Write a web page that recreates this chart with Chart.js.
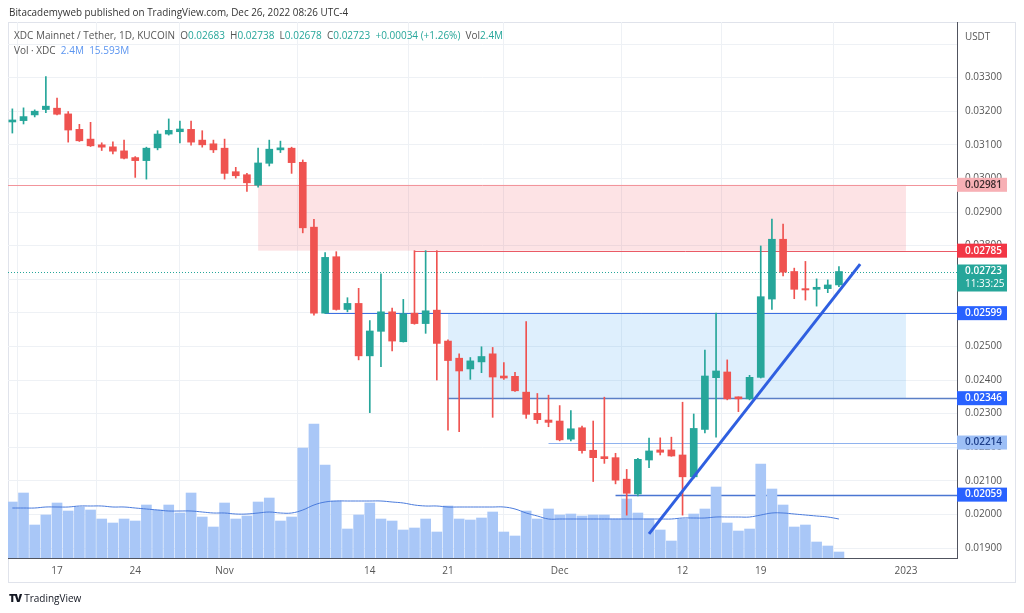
<!DOCTYPE html>
<html>
<head>
<meta charset="utf-8">
<title>XDC / USDT 1D</title>
<script src="https://cdn.jsdelivr.net/npm/chart.js"></script>
<style>
    body { margin: 0; background: #fff; font-family: "Open Sans", "Noto Sans", sans-serif; }
    #wrap { position: relative; width: 1024px; height: 613px; overflow: hidden; }
    #chart { position: absolute; left: 0; top: 0; }
    .txt { position: absolute; white-space: nowrap; font-size: 9.9px; line-height: 12px; color: #555; }
    .g { color: #26a69a; }
    .b { color: #5b95f0; }
    .logo { font-weight: 800; color: #131722; font-size: 11px; letter-spacing: -1px; margin-right: 3px; }
</style>
</head>
<body>
<div id="wrap">
    <canvas id="chart" width="1024" height="613"></canvas>
    <div class="txt" style="left:9px;top:6px;color:#333">Bitacademyweb published on TradingView.com, Dec 26, 2022 08:26 UTC-4</div>
    <div class="txt" style="left:14px;top:29px;font-size:10px">XDC Mainnet / Tether, 1D, KUCOIN&nbsp;&nbsp;O<span class="g">0.02683</span>&nbsp;&nbsp;H<span class="g">0.02738</span>&nbsp;&nbsp;L<span class="g">0.02678</span>&nbsp;&nbsp;C<span class="g">0.02723</span>&nbsp;&nbsp;<span class="g">+0.00034 (+1.26%)</span>&nbsp;&nbsp;Vol<span class="g">2.4M</span></div>
    <div class="txt" style="left:14px;top:44px;font-size:10px">Vol · XDC&nbsp;&nbsp;<span class="b">2.4M</span>&nbsp;&nbsp;<span class="b">15.593M</span></div>
    <div class="txt" style="left:965px;top:30px;color:#555">USDT</div>
    <div class="txt" style="left:9px;top:592px;color:#131722;font-size:10px"><span class="logo">TV</span>TradingView</div>
</div>

<script>
// daily candles, Oct 13 -> Dec 26 2022 (x = days from Oct 17)
const firstDay = -4;

const opens = [0.03168,0.03172,0.03189,0.03205,0.03209,0.03192,0.03146,0.03117,0.03100,0.03094,
    0.03082,0.03062,0.03053,0.03091,0.03132,0.03139,0.03146,0.03114,0.03103,0.03090,
    0.03020,0.03011,0.02980,0.03045,0.03085,0.03090,0.03048,0.02855,0.02599,0.02767,
    0.02610,0.02628,0.02472,0.02545,0.02603,0.02514,0.02599,0.02568,0.02608,0.02516,
    0.02465,0.02433,0.02454,0.02478,0.02412,0.02411,0.02364,0.02301,0.02281,0.02278,
    0.02224,0.02258,0.02191,0.02172,0.02169,0.02105,0.02061,0.02162,0.02192,0.02192,
    0.02177,0.02112,0.02253,0.02407,0.02424,0.02350,0.02344,0.02408,0.02641,0.02819,
    0.02723,0.02672,0.02670,0.02672,0.02683];

const highs = [0.03207,0.03210,0.03204,0.03303,0.03239,0.03199,0.03161,0.03167,0.03106,0.03109,
    0.03114,0.03065,0.03093,0.03142,0.03177,0.03171,0.03171,0.03142,0.03114,0.03117,
    0.03033,0.03015,0.03090,0.03114,0.03111,0.03093,0.03055,0.02878,0.02779,0.02782,
    0.02645,0.02673,0.02577,0.02716,0.02614,0.02640,0.02785,0.02785,0.02785,0.02520,
    0.02478,0.02467,0.02499,0.02497,0.02452,0.02423,0.02574,0.02360,0.02355,0.02324,
    0.02309,0.02263,0.02278,0.02349,0.02182,0.02134,0.02167,0.02227,0.02228,0.02230,
    0.02334,0.02299,0.02489,0.02599,0.02460,0.02350,0.02414,0.02799,0.02879,0.02864,
    0.02733,0.02753,0.02701,0.02698,0.02738];

const lows = [0.03135,0.03162,0.03183,0.03196,0.03189,0.03108,0.03110,0.03095,0.03083,0.03073,
    0.03058,0.03003,0.02998,0.03085,0.03129,0.03106,0.03099,0.03093,0.03077,0.02998,
    0.03001,0.02961,0.02974,0.03037,0.03077,0.03015,0.02838,0.02593,0.02598,0.02608,
    0.02603,0.02460,0.02303,0.02440,0.02487,0.02513,0.02566,0.02539,0.02400,0.02251,
    0.02246,0.02402,0.02422,0.02289,0.02402,0.02366,0.02286,0.02271,0.02261,0.02219,
    0.02219,0.02182,0.02098,0.02152,0.02091,0.01998,0.02055,0.02139,0.02177,0.02173,
    0.01998,0.02108,0.02243,0.02230,0.02341,0.02306,0.02341,0.02406,0.02610,0.02710,
    0.02642,0.02638,0.02620,0.02660,0.02678];

const closes = [0.03174,0.03184,0.03200,0.03215,0.03191,0.03144,0.03112,0.03097,0.03093,0.03081,
    0.03060,0.03053,0.03090,0.03132,0.03143,0.03147,0.03108,0.03100,0.03085,0.03015,
    0.03008,0.02987,0.03046,0.03087,0.03091,0.03047,0.02853,0.02599,0.02765,0.02610,
    0.02628,0.02472,0.02546,0.02603,0.02516,0.02597,0.02568,0.02606,0.02509,0.02458,
    0.02427,0.02457,0.02470,0.02409,0.02406,0.02368,0.02298,0.02282,0.02274,0.02222,
    0.02255,0.02190,0.02169,0.02166,0.02102,0.02063,0.02164,0.02189,0.02185,0.02174,
    0.02112,0.02256,0.02412,0.02427,0.02344,0.02344,0.02408,0.02648,0.02819,0.02721,
    0.02670,0.02668,0.02676,0.02683,0.02723];

// volume in millions XDC
const volumes = [22.4,26,13.2,17.2,22,18.8,20.4,19.2,15.6,14,
    15.6,14.8,21.2,19.2,21.2,18,26,16.4,12.4,22,
    15.6,16.8,22.4,24,14.8,16.4,44,53.6,37.2,22.8,
    11.6,17.2,22,15.6,14.8,11.2,12,15.6,10.4,20.8,
    15.6,15.2,16,18.4,10.4,8.8,18.8,15.6,19.6,17.2,
    17.6,16.8,17.2,17.2,15.6,23.6,18,15.6,11.2,6.8,
    15.6,17.6,19.6,28.4,14,10.8,11.6,37.6,27.6,21.2,
    12.4,13.2,6.4,4.8,2.4];

const volumeMA = [20,20,20,20.4,20.4,20.4,20.8,20.8,20.8,20.4,
    20.4,20,19.6,19.2,18.8,18.8,18.8,18.4,18,18,
    17.6,17.6,18,18.4,18,18,19.2,21.2,22.4,22.8,
    22.8,22.8,22.8,22.8,22.4,22,21.2,20.8,20.8,20.4,
    20.4,20.4,20.4,20.4,20.4,19.6,18,16.8,15.6,15.6,
    15.6,15.6,15.6,15.6,15.6,15.6,15.6,15.6,15.6,15.6,
    16,16,16,16.4,16.4,16.4,16.4,17.2,18,18,
    17.6,17.2,16.8,16.4,15.6];

// axis ticks
const timeTicks = [0, 7, 15, 28, 35, 45, 56, 63, 76];
const timeLabels = ['17', '24', 'Nov', '14', '21', 'Dec', '12', '19', '2023'];
const priceTicks = [0.019,0.020,0.021,0.022,0.023,0.024,0.025,0.026,0.027,0.028,0.029,0.030,0.031,0.032,0.033,0.034];

// drawings: zones [fromDay, toDay, top, bottom] and horizontal levels
const zoneFrom = [18, 35];
const zoneTo = [76, 76];
const zoneTop = [0.02981, 0.02599];
const zoneBottom = [0.02785, 0.02346];
const levelPrices = [0.02981, 0.02785, 0.02599, 0.02346, 0.02214, 0.02059];
const levelFrom = [-4.39, 32, 24, 35, 44, 50];
const trendX = [53, 71.9];
const trendY = [0.01942, 0.02745];
const lastPrice = 0.02723;
const countdown = '11:33:25';

const UP = '#26a69a', DOWN = '#ef5350';

const days = opens.map((_, i) => firstDay + i);
const candleColors = opens.map((o, i) => closes[i] >= o ? UP : DOWN);

const zoneFill = ['rgba(242, 54, 69, 0.14)', 'rgba(33, 150, 243, 0.15)'];
const levelStyle = [
    { line: '#f2949b', bg: '#f7b0b5', fg: '#3a2a2c', w: 1 },
    { line: '#ea5a66', bg: '#f23645', fg: '#fff', w: 1 },
    { line: '#3c6fe2', bg: '#2962ff', fg: '#fff', w: 1 },
    { line: '#5b7fc6', bg: '#2962ff', fg: '#fff', w: 1.3 },
    { line: '#8fb2ee', bg: '#9dbff6', fg: '#1e3f8a', w: 1 },
    { line: '#4a76d2', bg: '#2962ff', fg: '#fff', w: 1.3 }
];

const overlay = {
    id: 'overlay',
    beforeDraw(chart) {
        const ctx = chart.ctx;
        ctx.save();
        ctx.strokeStyle = '#e0e3eb';
        ctx.lineWidth = 1;
        ctx.strokeRect(8.5, 22.5, 1007, 560);
        ctx.restore();
    },
    beforeDatasetsDraw(chart) {
        const { ctx, chartArea: a, scales: { x, y } } = chart;
        ctx.save();
        ctx.beginPath();
        ctx.rect(a.left, a.top, a.right - a.left, a.bottom - a.top);
        ctx.clip();
        zoneFrom.forEach((f, i) => {
            const x0 = x.getPixelForValue(f), x1 = x.getPixelForValue(zoneTo[i]);
            const y0 = y.getPixelForValue(zoneTop[i]), y1 = y.getPixelForValue(zoneBottom[i]);
            ctx.fillStyle = zoneFill[i];
            ctx.fillRect(x0, y0, x1 - x0, y1 - y0);
        });
        levelPrices.forEach((p, i) => {
            const yy = Math.round(y.getPixelForValue(p)) + 0.5;
            ctx.strokeStyle = levelStyle[i].line;
            ctx.lineWidth = levelStyle[i].w;
            ctx.beginPath();
            ctx.moveTo(x.getPixelForValue(levelFrom[i]), yy);
            ctx.lineTo(a.right, yy);
            ctx.stroke();
        });
        // last price dotted line
        const ly = Math.round(y.getPixelForValue(lastPrice)) + 0.5;
        ctx.strokeStyle = UP;
        ctx.lineWidth = 1;
        ctx.setLineDash([1, 2]);
        ctx.beginPath();
        ctx.moveTo(a.left, ly);
        ctx.lineTo(a.right, ly);
        ctx.stroke();
        ctx.restore();
    },
    afterDraw(chart) {
        const { ctx, chartArea: a, scales: { y } } = chart;
        ctx.save();
        ctx.font = '600 10px "Open Sans", sans-serif';
        ctx.textBaseline = 'middle';
        ctx.textAlign = 'left';
        const bx = a.right, bw = 50;
        levelPrices.forEach((p, i) => {
            const yy = y.getPixelForValue(p);
            ctx.fillStyle = levelStyle[i].bg;
            ctx.fillRect(bx, yy - 7, bw, 14);
            ctx.fillStyle = levelStyle[i].fg;
            ctx.fillText(p.toFixed(5), bx + 8, yy);
        });
        const ly = y.getPixelForValue(lastPrice);
        ctx.fillStyle = UP;
        ctx.fillRect(bx, ly - 7, bw, 27);
        ctx.fillStyle = '#fff';
        ctx.fillText(lastPrice.toFixed(5), bx + 8, ly);
        ctx.font = '10px "Open Sans", sans-serif';
        ctx.fillText(countdown, bx + 8, ly + 13);
        ctx.restore();
    }
};

const ctx = document.getElementById('chart').getContext('2d');
new Chart(ctx, {
    type: 'bar',
    data: {
        datasets: [
            {
                type: 'line',
                data: trendX.map((d, i) => ({ x: d, y: trendY[i] })),
                borderColor: '#2f5fe0',
                borderWidth: 3,
                pointRadius: 0,
                order: 1
            },
            {
                data: days.map((d, i) => ({ x: d, y: [opens[i], closes[i]] })),
                backgroundColor: candleColors,
                barThickness: 7,
                minBarLength: 1,
                grouped: false,
                order: 2
            },
            {
                data: days.map((d, i) => ({ x: d, y: [lows[i], highs[i]] })),
                backgroundColor: candleColors,
                barThickness: 1,
                grouped: false,
                order: 3
            },
            {
                type: 'line',
                data: days.map((d, i) => ({ x: d, y: volumeMA[i] })),
                yAxisID: 'yv',
                borderColor: '#4a7bdc',
                borderWidth: 1,
                pointRadius: 0,
                tension: 0.4,
                order: 4
            },
            {
                data: days.map((d, i) => ({ x: d, y: volumes[i] })),
                yAxisID: 'yv',
                backgroundColor: '#a9c7f7',
                barThickness: 10,
                grouped: false,
                order: 5
            }
        ]
    },
    options: {
        responsive: false,
        animation: false,
        layout: { padding: { left: 8, right: 8, top: 22, bottom: 30 } },
        plugins: { legend: { display: false }, tooltip: { enabled: false } },
        scales: {
            x: {
                type: 'linear',
                min: -4.39,
                max: 80.57,
                offset: false,
                afterBuildTicks: s => { s.ticks = timeTicks.map(v => ({ value: v })); },
                afterFit: s => { s.height = 25; },
                ticks: {
                    autoSkip: false,
                    maxRotation: 0,
                    padding: 7,
                    color: '#555',
                    font: { size: 10, family: '"Open Sans", sans-serif' },
                    callback: v => timeLabels[timeTicks.indexOf(v)]
                },
                grid: { color: '#eef1f5', drawTicks: false },
                border: { color: '#50535e' }
            },
            y: {
                position: 'right',
                min: 0.018704,
                max: 0.034655,
                afterBuildTicks: s => { s.ticks = priceTicks.map(v => ({ value: v })); },
                afterFit: s => { s.width = 59; },
                ticks: {
                    padding: 8,
                    color: '#555',
                    font: { size: 10, family: '"Open Sans", sans-serif' },
                    callback: v => v > 0.0335 ? '' : v.toFixed(5)
                },
                grid: { color: '#eef1f5', drawTicks: false },
                border: { color: '#50535e' }
            },
            yv: {
                display: false,
                min: 0,
                max: 214.4
            }
        }
    },
    plugins: [overlay]
});
</script>
</body>
</html>
